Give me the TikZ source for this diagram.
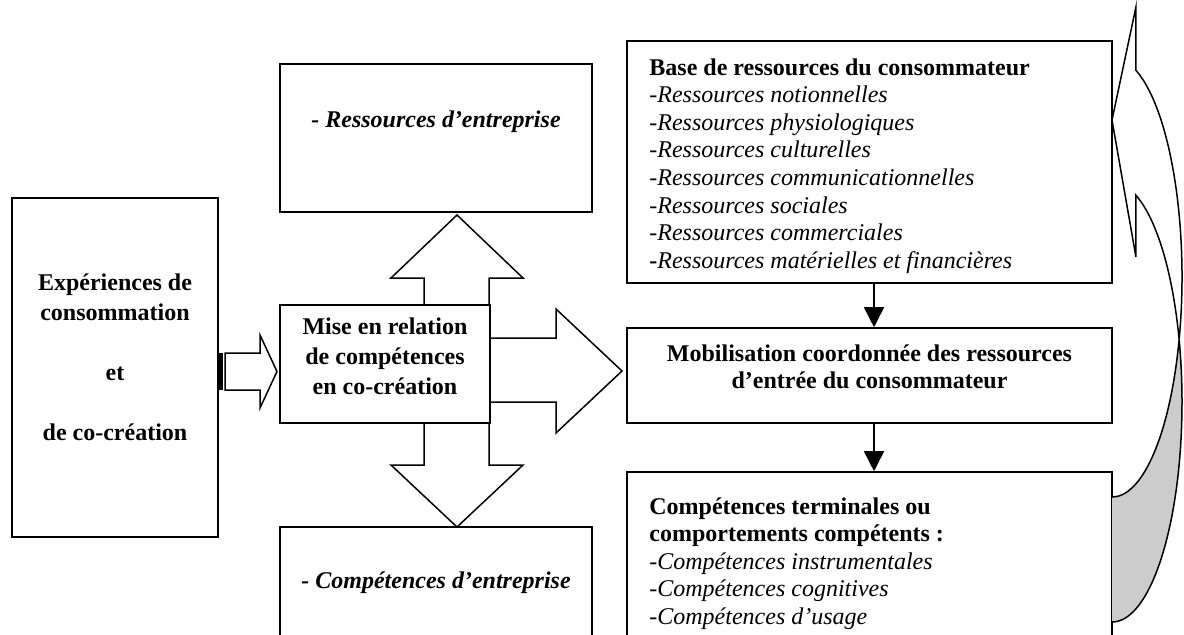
\documentclass[tikz,border=0pt]{standalone}
\usepackage{fontspec}
\setmainfont{Liberation Serif}
\usetikzlibrary{arrows.meta}
\newcommand\LinesL[2]{\vtop{\baselineskip=#1\lineskiplimit=-50pt\relax\halign{##\hfil\cr#2\crcr}}}
\newcommand\LinesC[2]{\vtop{\baselineskip=#1\lineskiplimit=-50pt\relax\halign{\hfil##\hfil\cr#2\crcr}}}
\begin{document}
\begin{tikzpicture}[x=0.5pt,y=-0.5pt,
  box/.style={draw, line width=0.8pt, inner sep=0pt},
  blk/.style={draw, line width=0.75pt, line join=miter},
  thin/.style={line width=0.8pt, -{Triangle[width=10pt,length=10pt]}},
  fs/.style={font=\fontsize{12}{13.8}\selectfont, inner sep=0pt},
  fsb/.style={font=\fontsize{12}{13.8}\selectfont\bfseries, inner sep=0pt}]
\useasboundingbox (0,0) rectangle (1184,634);
\clip (0,0) rectangle (1184,634);

% boxes
\node[box, minimum width=103pt, minimum height=169.5pt] (left) at (115,367.5) {};
\node[box, minimum width=156pt, minimum height=74pt] (res) at (436,138) {};
\node[box, minimum width=105pt, minimum height=59pt] (mid) at (385,364) {};
\node[box, minimum width=156pt, minimum height=86.5pt] (comp) at (436,613.5) {};
\node[box, minimum width=242.5pt, minimum height=121pt] (base) at (869.5,162) {};
\node[box, minimum width=242.5pt, minimum height=47.5pt] (mob) at (869.5,375.5) {};
\node[box, minimum width=242.5pt, minimum height=114pt] (term) at (869.5,586) {};

% striped arrow
\fill (218,353) rectangle (223,390);
\draw[blk] (225,353) -- (260,353) -- (260,335) -- (277,371.5) -- (260,408) -- (260,390) -- (225,390) -- cycle;

% block arrows from middle box
\draw[blk] (424,305) -- (424,278) -- (391,278) -- (457,215) -- (523,278) -- (489,278) -- (489,305);
\draw[blk] (424,423) -- (424,465) -- (391,465) -- (457,527) -- (523,465) -- (489,465) -- (489,423);
\draw[blk] (490,338) -- (556,338) -- (556,309) -- (622,371) -- (556,433) -- (556,402) -- (490,402);

% thin arrows
\draw[thin] ([xshift=2.25pt]base.south) -- ([xshift=2.25pt]mob.north);
\draw[thin] ([xshift=2.25pt]mob.south) -- ([xshift=2.25pt]term.north);

% curved arrow
\fill[gray!40] (1112,497) arc[start angle=-90,end angle=-16.5,x radius=35pt,y radius=110pt]
  arc[start angle=16.5,end angle=-90,x radius=35pt,y radius=110pt] -- cycle;
\draw[blk] (1112,622) arc[start angle=-90,end angle=70,x radius=35pt,y radius=110pt]
  -- (1135.94,257) -- (1112,120) -- (1135.94,7) -- (1135.94,70.3)
  arc[start angle=70,end angle=-90,x radius=35pt,y radius=110pt];

% texts
\node[fsb, anchor=base] (tleft) at (115,290) {\LinesC{15pt}{Expériences de\cr consommation\cr\cr et\cr\cr de co-création}};
\node[fsb, anchor=base] (tres) at (436,127) {\itshape - Ressources d’entreprise};
\node[fsb, anchor=base] (tcomp) at (436,588) {\itshape - Compétences d’entreprise};
\node[fsb, anchor=base] (tmid) at (385,334) {\LinesC{15pt}{Mise en relation\cr de compétences\cr en co-création}};
\node[fs, anchor=base west] (tbase) at (649,75) {\LinesL{13.8pt}{\textbf{Base de ressources du consommateur}\cr
 -\textit{Ressources notionnelles}\cr
 -\textit{Ressources physiologiques}\cr
 -\textit{Ressources culturelles}\cr
 -\textit{Ressources communicationnelles}\cr
 -\textit{Ressources sociales}\cr
 -\textit{Ressources commerciales}\cr
 \textbf{-}\textit{Ressources matérielles et financières}}};
\node[fsb, anchor=base] (tmob) at (869.5,361) {\LinesC{13.8pt}{Mobilisation coordonnée des ressources\cr d’entrée du consommateur}};
\node[fs, anchor=base west] (tterm) at (649,514) {\LinesL{13.8pt}{\textbf{Compétences terminales ou}\cr
 \textbf{comportements compétents :}\cr
 -\textit{Compétences instrumentales}\cr
 -\textit{Compétences cognitives}\cr
 -\textit{Compétences d’usage}}};
\end{tikzpicture}
\end{document}
